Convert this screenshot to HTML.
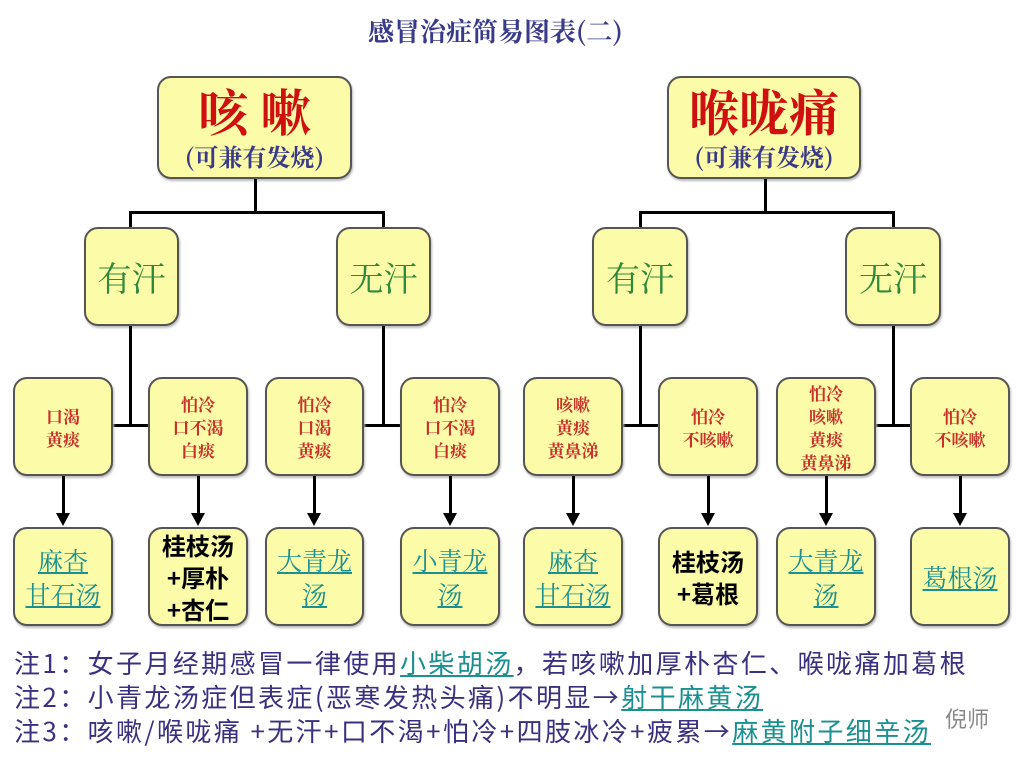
<!DOCTYPE html>
<html><head><meta charset="utf-8"><style>
body{margin:0;width:1024px;height:768px;background:#fff;position:relative;overflow:hidden;font-family:"Liberation Sans","Noto Sans CJK SC",sans-serif}
.b{position:absolute;background:#fbfba8;border:2px solid #555;border-radius:14px;box-sizing:border-box;display:flex;flex-direction:column;align-items:center;justify-content:center;text-align:center;box-shadow:1px 2px 2px #bbb}
.l{position:absolute;background:#000}
.t{position:absolute;white-space:nowrap}
.r{color:#c8302a;font-size:17px;line-height:23px;font-family:"Noto Serif CJK SC",serif;font-weight:bold}
.g{color:#2e8a3a;font-size:34px;font-family:"Noto Serif CJK SC",serif}
.u{color:#1a9090;font-size:25px;line-height:34px;text-decoration:underline;font-family:"Noto Serif CJK SC",serif}
.k{color:#000;font-size:24px;line-height:32px;font-family:"Noto Sans CJK SC",sans-serif;font-weight:bold}
.ar{position:absolute;width:0;height:0;border-left:7px solid transparent;border-right:7px solid transparent;border-top:13px solid #000}
.n{position:absolute;left:14px;font-size:26px;letter-spacing:2.4px;color:#3a3080;font-family:"Noto Sans CJK SC",sans-serif;white-space:nowrap}
.n a{color:#1a9090;text-decoration:underline}
</style></head><body>
<div class="t" style="left:368px;top:12px;font-size:26px;color:#3a3a8a;font-family:'Noto Serif CJK SC',serif;font-weight:bold">感冒治症简易图表(二)</div>

<div class="b" style="left:157px;top:76px;width:195px;height:103px"><div style="color:#d01010;font-size:50px;line-height:56px;font-weight:bold;font-family:'Noto Serif CJK SC',serif">咳 嗽</div><div style="color:#3a3a8a;font-size:24px;font-family:'Noto Serif CJK SC',serif;font-weight:bold">(可兼有发烧)</div></div>
<div class="b" style="left:667px;top:76px;width:194px;height:103px"><div style="color:#d01010;font-size:50px;line-height:56px;font-weight:bold;font-family:'Noto Serif CJK SC',serif">喉咙痛</div><div style="color:#3a3a8a;font-size:24px;font-family:'Noto Serif CJK SC',serif;font-weight:bold">(可兼有发烧)</div></div>

<div class="l" style="left:254px;top:179px;width:3px;height:34px"></div>
<div class="l" style="left:129px;top:211px;width:256px;height:3px"></div>
<div class="l" style="left:764px;top:179px;width:3px;height:34px"></div>
<div class="l" style="left:639px;top:211px;width:256px;height:3px"></div>
<div class="l" style="left:129px;top:211px;width:3px;height:17px"></div>
<div class="l" style="left:382px;top:211px;width:3px;height:17px"></div>
<div class="l" style="left:639px;top:211px;width:3px;height:17px"></div>
<div class="l" style="left:892px;top:211px;width:3px;height:17px"></div>

<div class="b" style="left:84px;top:227px;width:95px;height:99px"><span class="g">有汗</span></div>
<div class="b" style="left:336px;top:227px;width:95px;height:99px"><span class="g">无汗</span></div>
<div class="b" style="left:592px;top:227px;width:96px;height:99px"><span class="g">有汗</span></div>
<div class="b" style="left:845px;top:227px;width:96px;height:99px"><span class="g">无汗</span></div>

<div class="l" style="left:129px;top:326px;width:3px;height:100px"></div>
<div class="l" style="left:382px;top:326px;width:3px;height:100px"></div>
<div class="l" style="left:639px;top:326px;width:3px;height:100px"></div>
<div class="l" style="left:892px;top:326px;width:3px;height:100px"></div>
<div class="l" style="left:112px;top:424px;width:36px;height:3px"></div>
<div class="l" style="left:363px;top:424px;width:37px;height:3px"></div>
<div class="l" style="left:623px;top:424px;width:35px;height:3px"></div>
<div class="l" style="left:875px;top:424px;width:35px;height:3px"></div>

<div class="b" style="left:13px;top:377px;width:100px;height:99px"><div class="r">口渴<br>黄痰</div></div>
<div class="b" style="left:148px;top:377px;width:100px;height:99px"><div class="r">怕冷<br>口不渴<br>白痰</div></div>
<div class="b" style="left:265px;top:377px;width:99px;height:99px"><div class="r">怕冷<br>口渴<br>黄痰</div></div>
<div class="b" style="left:400px;top:377px;width:100px;height:99px"><div class="r">怕冷<br>口不渴<br>白痰</div></div>
<div class="b" style="left:523px;top:377px;width:100px;height:99px"><div class="r">咳嗽<br>黄痰<br>黄鼻涕</div></div>
<div class="b" style="left:658px;top:377px;width:100px;height:99px"><div class="r">怕冷<br>不咳嗽</div></div>
<div class="b" style="left:776px;top:377px;width:100px;height:99px"><div class="r">怕冷<br>咳嗽<br>黄痰<br>黄鼻涕</div></div>
<div class="b" style="left:910px;top:377px;width:100px;height:99px"><div class="r">怕冷<br>不咳嗽</div></div>

<div class="l" style="left:62px;top:476px;width:3px;height:40px"></div><div class="ar" style="left:56px;top:513px"></div>
<div class="l" style="left:197px;top:476px;width:3px;height:40px"></div><div class="ar" style="left:191px;top:513px"></div>
<div class="l" style="left:313px;top:476px;width:3px;height:40px"></div><div class="ar" style="left:307px;top:513px"></div>
<div class="l" style="left:449px;top:476px;width:3px;height:40px"></div><div class="ar" style="left:443px;top:513px"></div>
<div class="l" style="left:572px;top:476px;width:3px;height:40px"></div><div class="ar" style="left:566px;top:513px"></div>
<div class="l" style="left:707px;top:476px;width:3px;height:40px"></div><div class="ar" style="left:701px;top:513px"></div>
<div class="l" style="left:825px;top:476px;width:3px;height:40px"></div><div class="ar" style="left:819px;top:513px"></div>
<div class="l" style="left:959px;top:476px;width:3px;height:40px"></div><div class="ar" style="left:953px;top:513px"></div>

<div class="b" style="left:13px;top:527px;width:100px;height:99px"><div class="u">麻杏<br>甘石汤</div></div>
<div class="b" style="left:148px;top:527px;width:100px;height:99px"><div class="k">桂枝汤<br>+厚朴<br>+杏仁</div></div>
<div class="b" style="left:265px;top:527px;width:99px;height:99px"><div class="u">大青龙<br>汤</div></div>
<div class="b" style="left:400px;top:527px;width:100px;height:99px"><div class="u">小青龙<br>汤</div></div>
<div class="b" style="left:523px;top:527px;width:100px;height:99px"><div class="u">麻杏<br>甘石汤</div></div>
<div class="b" style="left:658px;top:527px;width:100px;height:99px"><div class="k">桂枝汤<br>+葛根</div></div>
<div class="b" style="left:776px;top:527px;width:100px;height:99px"><div class="u">大青龙<br>汤</div></div>
<div class="b" style="left:910px;top:527px;width:100px;height:99px"><div class="u">葛根汤</div></div>

<div class="n" style="top:644px">注1：女子月经期感冒一律使用<a>小柴胡汤</a>，若咳嗽加厚朴杏仁、喉咙痛加葛根</div>
<div class="n" style="top:678px">注2：小青龙汤症但表症(恶寒发热头痛)不明显→<a>射干麻黄汤</a></div>
<div class="n" style="top:712px">注3：咳嗽/喉咙痛 +无汗+口不渴+怕冷+四肢冰冷+疲累→<a>麻黄附子细辛汤</a></div>
<div class="t" style="left:945px;top:702px;font-size:22px;color:#888;font-family:'Noto Sans CJK SC',sans-serif">倪师</div>
</body></html>
